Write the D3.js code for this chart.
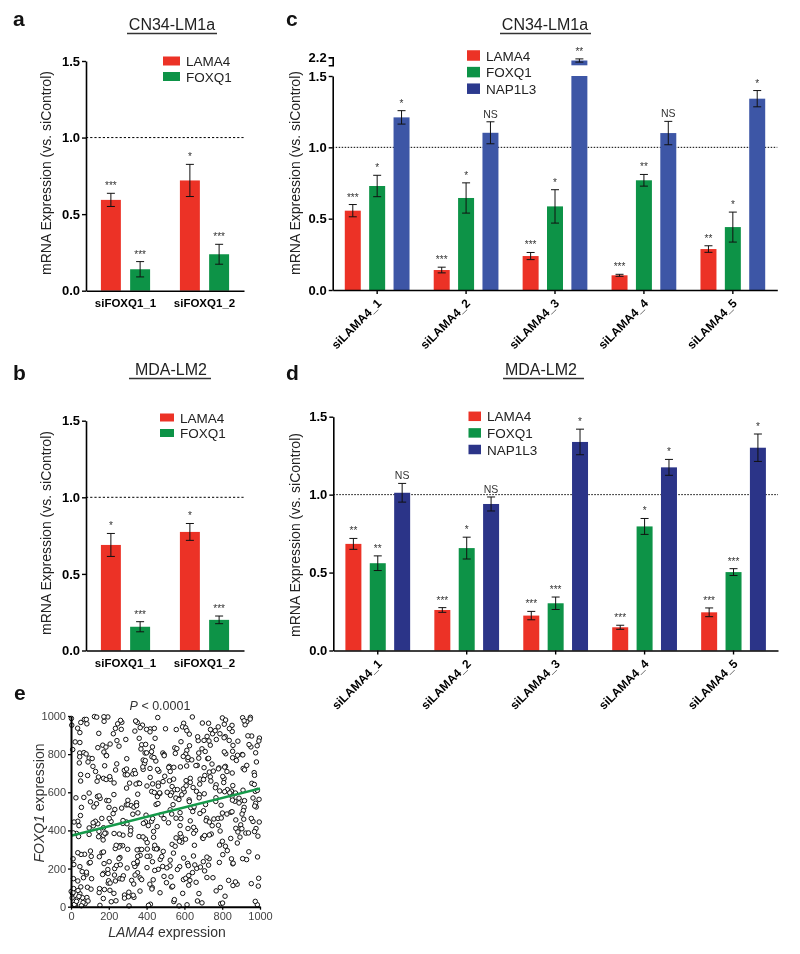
<!DOCTYPE html>
<html><head><meta charset="utf-8">
<script src="https://cdn.jsdelivr.net/npm/d3@7"></script>
<style>
body{margin:0;background:#fff}
svg{display:block;will-change:transform}
text{font-family:"Liberation Sans",Arial,Helvetica,sans-serif}
</style>
</head><body>
<svg id="chart" width="800" height="954"></svg>
<script>
// ---------------- DATA ----------------
const seriesAB = ["LAMA4", "FOXQ1"];
const seriesCD = ["LAMA4", "FOXQ1", "NAP1L3"];
const groupsAB = ["siFOXQ1_1", "siFOXQ1_2"];
const groupsCD = ["siLAMA4_1", "siLAMA4_2", "siLAMA4_3", "siLAMA4_4", "siLAMA4_5"];
const yTicks = [0, 0.5, 1.0, 1.5];
const yTickBreak = [2.2];

// panel a (CN34-LM1a, siFOXQ1)
const aLAMA4 = [0.593, 0.72];
const aLAMA4Err = [0.043, 0.105];
const aLAMA4Sig = ["***", "*"];
const aFOXQ1 = [0.14, 0.238];
const aFOXQ1Err = [0.05, 0.065];
const aFOXQ1Sig = ["***", "***"];

// panel b (MDA-LM2, siFOXQ1)
const bLAMA4 = [0.689, 0.774];
const bLAMA4Err = [0.075, 0.055];
const bLAMA4Sig = ["*", "*"];
const bFOXQ1 = [0.155, 0.2];
const bFOXQ1Err = [0.033, 0.025];
const bFOXQ1Sig = ["***", "***"];

// panel c (CN34-LM1a, siLAMA4)
const cLAMA4 = [0.556, 0.14, 0.238, 0.103, 0.287];
const cLAMA4Err = [0.043, 0.02, 0.025, 0.007, 0.023];
const cLAMA4Sig = ["***", "***", "***", "***", "**"];
const cFOXQ1 = [0.729, 0.645, 0.586, 0.769, 0.441];
const cFOXQ1Err = [0.075, 0.106, 0.117, 0.041, 0.105];
const cFOXQ1Sig = ["*", "*", "*", "**", "*"];
const cNAP1L3 = [1.21, 1.102, 2.14, 1.1, 1.341];
const cNAP1L3Err = [0.047, 0.077, 0.03, 0.082, 0.057];
const cNAP1L3Sig = ["*", "NS", "**", "NS", "*"];

// panel d (MDA-LM2, siLAMA4)
const dLAMA4 = [0.684, 0.26, 0.224, 0.149, 0.245];
const dLAMA4Err = [0.035, 0.015, 0.027, 0.013, 0.028];
const dLAMA4Sig = ["**", "***", "***", "***", "***"];
const dFOXQ1 = [0.56, 0.657, 0.303, 0.796, 0.503];
const dFOXQ1Err = [0.047, 0.07, 0.04, 0.051, 0.022];
const dFOXQ1Sig = ["**", "*", "***", "*", "***"];
const dNAP1L3 = [1.012, 0.94, 1.338, 1.175, 1.301];
const dNAP1L3Err = [0.06, 0.045, 0.082, 0.051, 0.088];
const dNAP1L3Sig = ["NS", "NS", "*", "*", "*"];

// panel e (scatter, LAMA4 vs FOXQ1 expression); positions estimated region by region from the picture
const eTicks = [0, 200, 400, 600, 800, 1000];
const eFitX = [0, 1000];
const eFitY = [372, 620];
const ePoints = [
[71,982],[81,982],[84,959],[4,952],[35,936],[2,987],[47,913],[52,966],
[124,997],[175,972],[147,909],[136,994],[195,995],[174,996],
[269,967],[262,977],[224,907],[266,930],[235,935],[247,959],
[345,971],[338,921],[378,952],[351,966],[342,974],[366,939],
[419,932],[400,930],[459,992],[418,917],[441,935],
[596,962],[590,943],[557,929],[500,933],
[642,995],[626,905],[695,963],[607,938],[613,923],
[728,962],[779,943],[749,907],[763,923],[738,929],[788,907],
[853,919],[852,951],[801,990],[811,957],[838,934],[818,979],
[930,970],[921,954],[908,991],[949,993],[948,984],[916,975],
[9,824],[47,861],[46,806],[68,808],[22,864],[80,801],
[168,847],[174,811],[185,837],[142,834],
[254,842],[243,871],[207,853],[290,877],
[374,849],[392,806],[395,851],[370,827],[361,883],
[486,806],[426,813],[431,838],[445,883],[400,807],
[552,804],[549,833],[582,865],[560,829],
[676,806],[673,871],[613,820],[607,800],[693,828],[670,891],[627,844],
[737,847],[704,872],[730,869],[769,877],[720,893],[710,814],
[816,892],[883,868],[819,802],[855,815],[810,886],[857,846],[837,872],[811,812],
[952,838],[997,884],[942,850],[956,895],[936,896],[977,807],[985,844],[994,869],
[96,779],[46,786],[44,754],[90,759],
[187,793],[116,736],[188,792],[130,709],[178,739],[112,777],
[236,717],[282,715],[242,749],[294,722],[295,776],
[335,714],[382,720],[382,769],[389,751],[393,766],[380,733],
[418,725],[428,786],[493,798],[449,764],[465,710],[458,720],[493,792],[439,782],
[594,788],[579,733],[520,736],[525,709],[544,731],[517,730],
[612,738],[619,770],[668,741],[661,740],[639,770],[619,783],[676,779],
[732,706],[783,728],[723,776],[746,748],[704,729],[753,711],[780,723],[728,778],
[825,709],[881,794],[855,781],[853,701],[875,767],[817,736],[813,732],
[906,798],[911,725],[909,796],[918,718],[981,759],[930,741],[969,703],
[51,659],[88,688],[51,693],
[145,680],[172,673],[186,667],[138,658],
[294,622],[287,692],[228,649],[298,692],[208,668],[205,682],
[357,649],[327,696],[310,648],[341,698],[344,643],[363,646],
[432,644],[496,684],[487,656],[402,633],[462,648],[427,604],[419,678],[462,632],
[509,600],[521,660],[599,602],[535,630],[543,669],[594,618],[549,614],[563,614],
[609,634],[631,673],[681,643],[664,605],[646,625],[631,652],[609,661],[683,669],
[708,688],[787,607],[701,667],[768,639],[764,624],[737,681],[740,659],
[827,614],[856,635],[849,606],[813,603],[810,672],[808,651],[803,683],
[975,605],[910,611],[957,647],[970,641],[971,689],[986,610],
[68,573],[96,596],[55,521],[26,571],
[154,568],[189,557],[103,550],[135,540],[121,523],[140,578],[149,581],
[293,534],[232,510],[268,517],[201,521],[200,556],[227,588],
[302,535],[319,530],[333,522],[347,545],[301,558],[353,590],[347,530],
[441,599],[457,577],[470,593],[450,536],[460,541],[469,597],
[532,597],[525,508],[586,587],[569,566],[540,535],[555,570],[571,562],[526,584],
[647,516],[625,560],[679,588],[626,551],[678,571],[634,519],[651,524],
[766,552],[701,503],[705,592],[712,536],[767,571],[794,532],
[852,578],[867,553],[898,555],[889,544],[889,569],[870,596],[840,597],[854,559],
[918,556],[995,563],[980,523],[963,570],[916,521],[912,504],[977,542],[972,528],
[36,448],[96,413],[42,425],[16,444],[50,478],
[118,424],[142,435],[129,448],[163,463],[172,414],[117,440],
[223,488],[293,444],[212,447],[296,435],[274,437],[202,463],[275,452],
[394,444],[383,437],[397,480],[316,412],[354,492],[327,485],
[409,425],[477,482],[456,420],[492,462],[426,448],[432,462],
[577,493],[533,486],[556,464],[581,462],[577,425],[516,440],
[619,410],[659,400],[649,416],[644,499],[682,489],[631,450],
[756,460],[747,425],[780,427],[778,463],[718,464],[715,451],[795,465],[732,444],
[825,486],[898,429],[846,495],[893,408],[801,491],[852,498],[872,411],[872,455],
[963,447],[954,463],[996,444],[979,410],[914,459],[904,409],[905,486],
[29,384],[96,379],[12,387],[40,368],
[170,350],[148,395],[185,386],[171,374],[179,385],[146,367],
[275,375],[273,320],[256,381],[228,384],[259,320],[254,313],[234,305],[239,322],
[300,301],[313,378],[363,300],[394,355],[360,368],[381,366],[374,300],[316,398],
[442,305],[458,304],[403,336],[437,395],[437,364],[452,303],[404,302],[443,322],
[556,361],[535,327],[583,369],[551,317],[578,383],[586,338],[574,343],
[696,362],[653,322],[649,385],[606,354],[699,358],
[786,323],[742,381],[789,397],[707,373],[732,376],
[817,317],[883,392],[880,334],[894,365],[801,343],[845,358],
[989,370],[971,394],[925,386],[939,387],
[72,275],[47,210],[96,229],[53,274],[15,221],[11,251],[36,283],
[150,262],[175,226],[102,232],[164,284],[172,287],[103,292],[107,264],
[231,200],[259,258],[241,216],[261,220],[254,252],[297,203],[202,236],
[347,225],[349,229],[366,269],[338,211],[351,237],[332,227],[353,264],[350,298],
[488,290],[431,236],[402,205],[472,248],[417,265],[485,211],[480,263],[403,264],
[542,281],[523,214],[596,255],[507,204],[575,210],[525,244],
[665,201],[617,227],[621,215],[655,219],[648,266],[685,208],
[700,236],[785,232],[728,218],[731,252],[719,260],
[803,273],[856,225],[827,294],[849,251],[858,228],
[941,288],[929,247],[987,261],[908,252],
[82,171],[82,181],[59,184],[52,104],[36,135],[87,102],[13,147],[66,152],
[197,124],[172,175],[109,147],[199,136],[195,195],[196,174],[167,169],
[277,162],[207,124],[230,166],[235,135],[259,147],[271,145],
[321,138],[352,178],[366,151],[374,142],[339,166],[332,119],
[430,100],[492,159],[417,118],[435,141],[462,196],[443,190],
[529,157],[533,103],[595,142],[505,126],[563,195],[538,107],
[623,113],[662,128],[643,179],[607,149],[623,163],[629,138],
[707,188],[719,153],[751,152],[790,101],
[857,111],[834,138],[879,118],[870,130],
[954,121],[991,108],[993,149],
[84,48],[75,16],[24,9],[61,47],[6,46],[8,68],[64,22],[1,80],[47,68],[11,74],[37,85],[34,42],[42,54],
[18,12],[29,28],[55,5],[90,30],[14,95],
[171,43],[153,7],[177,90],[149,74],[106,92],[151,95],
[227,70],[283,61],[206,86],[213,26],[238,31],[283,45],
[307,4],[304,52],[333,49],[365,82],[329,60],[306,76],
[471,73],[420,13],[410,7],[428,93],
[591,70],[544,27],[547,37],[572,4],
[669,30],[677,69],[693,20],[614,10],
[792,16],[768,83],
[802,19],[815,55],
[986,10],[975,28]
];

// ---------------- STYLE ----------------
const colRed = "#ec3226";
const colGreen = "#0d9347";
const colBlueC = "#3d56a6";
const colBlueD = "#2b3488";
const colBlueLegend = "#2c3a8e";

const svg = d3.select("#chart");

function panelLetter(t, x, y) {
  svg.append("text").attr("x", x).attr("y", y).text(t)
    .attr("font-size", 21).attr("font-weight", "bold").attr("fill", "#111");
}
function panelTitle(t, cx, y, x1, x2) {
  svg.append("text").attr("x", cx).attr("y", y).text(t)
    .attr("text-anchor", "middle").attr("font-size", 16).attr("fill", "#222");
  svg.append("line").attr("x1", x1).attr("x2", x2).attr("y1", y + 3.5).attr("y2", y + 3.5)
    .attr("stroke", "#333").attr("stroke-width", 1.5);
}

function barPanel(o) {
  const g = svg.append("g");
  const y = d3.scaleLinear().domain([0, 1.5]).range([o.y0, o.y15]);
  const yU = o.upper ? d3.scaleLinear().domain(o.upper.domain).range(o.upper.range) : null;
  const xg = d3.scaleBand().domain(o.groups).range([o.xL, o.xR]).paddingInner(0).paddingOuter(0);
  const xs = d3.scaleBand().domain(o.series).range([0, xg.bandwidth()])
    .paddingInner(o.pi).paddingOuter(o.po);

  // reference line at 1.0
  g.append("line").attr("x1", o.xL).attr("x2", o.xR).attr("y1", y(1)).attr("y2", y(1))
    .attr("stroke", "#000").attr("stroke-width", 1).attr("stroke-dasharray", o.dash);

  o.series.forEach((s, si) => {
    o.groups.forEach((gr, gi) => {
      const v = o.values[si][gi], e = o.errs[si][gi], sig = o.sigs[si][gi];
      const bx = xg(gr) + xs(s), bw = xs.bandwidth(), cx = bx + bw / 2;
      let ys = y;
      if (yU && v > 1.5) {
        g.append("rect").attr("x", bx).attr("width", bw)
          .attr("y", y(1.5)).attr("height", y(0) - y(1.5)).attr("fill", o.colors[si]);
        g.append("rect").attr("x", bx).attr("width", bw)
          .attr("y", yU(v)).attr("height", yU(o.upper.domain[0]) - yU(v)).attr("fill", o.colors[si]);
        ys = yU;
      } else {
        g.append("rect").attr("x", bx).attr("width", bw)
          .attr("y", y(v)).attr("height", y(0) - y(v)).attr("fill", o.colors[si]);
      }
      const t = ys(v + e), b = ys(v - e);
      g.append("line").attr("x1", cx).attr("x2", cx).attr("y1", t).attr("y2", b)
        .attr("stroke", "#111").attr("stroke-width", 1);
      [t, b].forEach(yy => g.append("line").attr("x1", cx - 4).attr("x2", cx + 4)
        .attr("y1", yy).attr("y2", yy).attr("stroke", "#111").attr("stroke-width", 1));
      g.append("text").attr("x", cx).attr("y", t - 4).text(sig)
        .attr("text-anchor", "middle").attr("font-size", sig === "NS" ? 10.5 : 10).attr("fill", "#333");
    });
  });

  // y axis
  g.append("g").attr("transform", `translate(${o.xL},0)`)
    .call(d3.axisLeft(y).tickValues(yTicks).tickFormat(d3.format(".1f")).tickSize(4).tickSizeOuter(0).tickPadding(2));
  if (yU) {
    g.append("g").attr("transform", `translate(${o.xL},0)`)
      .call(d3.axisLeft(yU).tickValues(yTickBreak).tickFormat(d3.format(".1f")).tickSize(4).tickSizeOuter(4).tickPadding(2));
  }
  // x axis
  const xa = g.append("g").attr("transform", `translate(0,${o.y0})`)
    .call(d3.axisBottom(xg).tickSize(o.xTick).tickSizeOuter(0).tickPadding(8));
  g.selectAll(".domain").attr("stroke", "#000").attr("stroke-width", 1.6);
  g.selectAll(".tick line").attr("stroke", "#000").attr("stroke-width", 1.4);
  g.selectAll(".tick text").attr("font-family", "Liberation Sans, Arial, sans-serif")
    .attr("font-weight", "bold").attr("font-size", 13).attr("fill", "#000");
  xa.selectAll(".tick text").attr("font-size", o.rotate ? 12 : 11.5);
  if (o.rotate) {
    xa.selectAll(".tick text").attr("y", 0).attr("x", 0).attr("dy", "0.35em")
      .attr("text-anchor", "end").attr("transform", "translate(2,11) rotate(-45)");
  }

  // y label
  g.append("text").attr("transform", `translate(${o.labX},${o.labY}) rotate(-90)`)
    .attr("text-anchor", "middle").attr("font-size", 14).attr("fill", "#222")
    .text("mRNA Expression (vs. siControl)");

  // legend
  o.series.forEach((s, si) => {
    const ly = o.legY + si * o.legStep;
    g.append("rect").attr("x", o.legX).attr("y", ly - o.legH / 2).attr("width", o.legW).attr("height", o.legH)
      .attr("fill", o.legColors[si]);
    g.append("text").attr("x", o.legX + o.legW + 6).attr("y", ly + 5).text(s)
      .attr("font-size", 13.5).attr("fill", "#222");
  });
}

// ---------------- PANELS ----------------
panelLetter("a", 13, 26);
panelTitle("CN34-LM1a", 172, 30, 127, 217);
barPanel({
  groups: groupsAB, series: seriesAB,
  values: [aLAMA4, aFOXQ1], errs: [aLAMA4Err, aFOXQ1Err], sigs: [aLAMA4Sig, aFOXQ1Sig],
  colors: [colRed, colGreen], legColors: [colRed, colGreen],
  xL: 86, xR: 244, y0: 290.7, y15: 61, pi: 0.317, po: 0.51, dash: "2.2,2", xTick: 0,
  labX: 50.5, labY: 173, legX: 163, legY: 61, legStep: 15.5, legW: 17, legH: 9
});

panelLetter("b", 13, 380);
panelTitle("MDA-LM2", 171, 375, 129, 211);
barPanel({
  groups: groupsAB, series: seriesAB,
  values: [bLAMA4, bFOXQ1], errs: [bLAMA4Err, bFOXQ1Err], sigs: [bLAMA4Sig, bFOXQ1Sig],
  colors: [colRed, colGreen], legColors: [colRed, colGreen],
  xL: 86, xR: 244, y0: 650.5, y15: 420.7, pi: 0.317, po: 0.51, dash: "2.2,2", xTick: 0,
  labX: 50.5, labY: 533, legX: 160, legY: 417.5, legStep: 15.5, legW: 14, legH: 8
});

panelLetter("c", 286, 26);
panelTitle("CN34-LM1a", 545, 30, 500, 591);
barPanel({
  groups: groupsCD, series: seriesCD,
  values: [cLAMA4, cFOXQ1, cNAP1L3], errs: [cLAMA4Err, cFOXQ1Err, cNAP1L3Err], sigs: [cLAMA4Sig, cFOXQ1Sig, cNAP1L3Sig],
  colors: [colRed, colGreen, colBlueC], legColors: [colRed, colGreen, colBlueLegend],
  xL: 332.7, xR: 777.3, y0: 290, y15: 76, pi: 0.344, po: 0.496, dash: "1.5,1.5", xTick: 4, rotate: true,
  upper: { domain: [2.05, 2.2], range: [65.3, 57.3] },
  labX: 300, labY: 173, legX: 467, legY: 55.5, legStep: 16.6, legW: 13, legH: 10.5
});

panelLetter("d", 286, 380);
panelTitle("MDA-LM2", 541, 375, 503, 584);
barPanel({
  groups: groupsCD, series: seriesCD,
  values: [dLAMA4, dFOXQ1, dNAP1L3], errs: [dLAMA4Err, dFOXQ1Err, dNAP1L3Err], sigs: [dLAMA4Sig, dFOXQ1Sig, dNAP1L3Sig],
  colors: [colRed, colGreen, colBlueD], legColors: [colRed, colGreen, colBlueD],
  xL: 333.3, xR: 778, y0: 650.5, y15: 416.7, pi: 0.344, po: 0.496, dash: "1.5,1.5", xTick: 4, rotate: true,
  labX: 300, labY: 535, legX: 468.5, legY: 416.3, legStep: 16.6, legW: 12.5, legH: 9.5
});

// panel e
panelLetter("e", 14, 700);
(function () {
  const g = svg.append("g");
  const x = d3.scaleLinear().domain([0, 1000]).range([71, 260]);
  const y = d3.scaleLinear().domain([0, 1000]).range([906.7, 716]);
  g.selectAll("circle").data(ePoints).join("circle")
    .attr("cx", d => x(d[0])).attr("cy", d => y(d[1])).attr("r", 2.25)
    .attr("fill", "#fff").attr("stroke", "#111").attr("stroke-width", 1);
  g.append("line").attr("x1", x(eFitX[0])).attr("y1", y(eFitY[0]))
    .attr("x2", x(eFitX[1])).attr("y2", y(eFitY[1]))
    .attr("stroke", "#159a4a").attr("stroke-width", 2.6);
  g.append("g").attr("transform", "translate(0,906.7)")
    .call(d3.axisBottom(x).tickValues(eTicks).tickFormat(d3.format("d")).tickSize(3).tickSizeOuter(0).tickPadding(3));
  g.append("g").attr("transform", "translate(71,0)")
    .call(d3.axisLeft(y).tickValues(eTicks).tickFormat(d3.format("d")).tickSize(3).tickSizeOuter(0).tickPadding(2));
  g.selectAll(".domain").attr("stroke", "#000").attr("stroke-width", 2);
  g.selectAll(".tick line").attr("stroke", "#000").attr("stroke-width", 1.3);
  g.selectAll(".tick text").attr("font-family", "Liberation Sans, Arial, sans-serif")
    .attr("font-size", 11).attr("fill", "#444");
  const px = g.append("text").attr("x", 160).attr("y", 710).attr("text-anchor", "middle")
    .attr("font-size", 12.5).attr("fill", "#333");
  px.append("tspan").attr("font-style", "italic").text("P");
  px.append("tspan").text(" < 0.0001");
  const xl = g.append("text").attr("x", 167).attr("y", 937).attr("text-anchor", "middle")
    .attr("font-size", 14).attr("fill", "#333");
  xl.append("tspan").attr("font-style", "italic").text("LAMA4");
  xl.append("tspan").text(" expression");
  const yl = g.append("text").attr("transform", "translate(44,803) rotate(-90)").attr("text-anchor", "middle")
    .attr("font-size", 14).attr("fill", "#333");
  yl.append("tspan").attr("font-style", "italic").text("FOXQ1");
  yl.append("tspan").text(" expression");
})();
</script>
</body></html>
